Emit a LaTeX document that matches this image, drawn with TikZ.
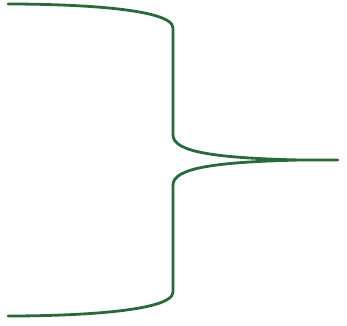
\documentclass[tikz,border=0pt]{standalone}
\usetikzlibrary{calc}
\definecolor{braceGreen}{RGB}{42,106,58}

\begin{document}
\begin{tikzpicture}[
  x=1pt, y=-1pt,
  brace/.style={draw=braceGreen, line width=2.8pt, line join=round, line cap=round},
]
\useasboundingbox (0,0) rectangle (347,325);
\coordinate (top) at (8,4);
\coordinate (upper) at (173,28);
\coordinate (midup) at (173,135);
\coordinate (tip) at (338,160);
\coordinate (middown) at (173,185);
\coordinate (lower) at (173,292);
\coordinate (bottom) at (8,316);
\draw[brace] (top) .. controls (70,4) and (173,8) .. (upper)
  -- (midup) .. controls (173,152) and (215,158) .. (300,160)
  -- (tip) -- (300,160) .. controls (215,162) and (173,168) .. (middown)
  -- (lower) .. controls (173,312) and (70,316) .. (bottom);
\end{tikzpicture}
\end{document}
